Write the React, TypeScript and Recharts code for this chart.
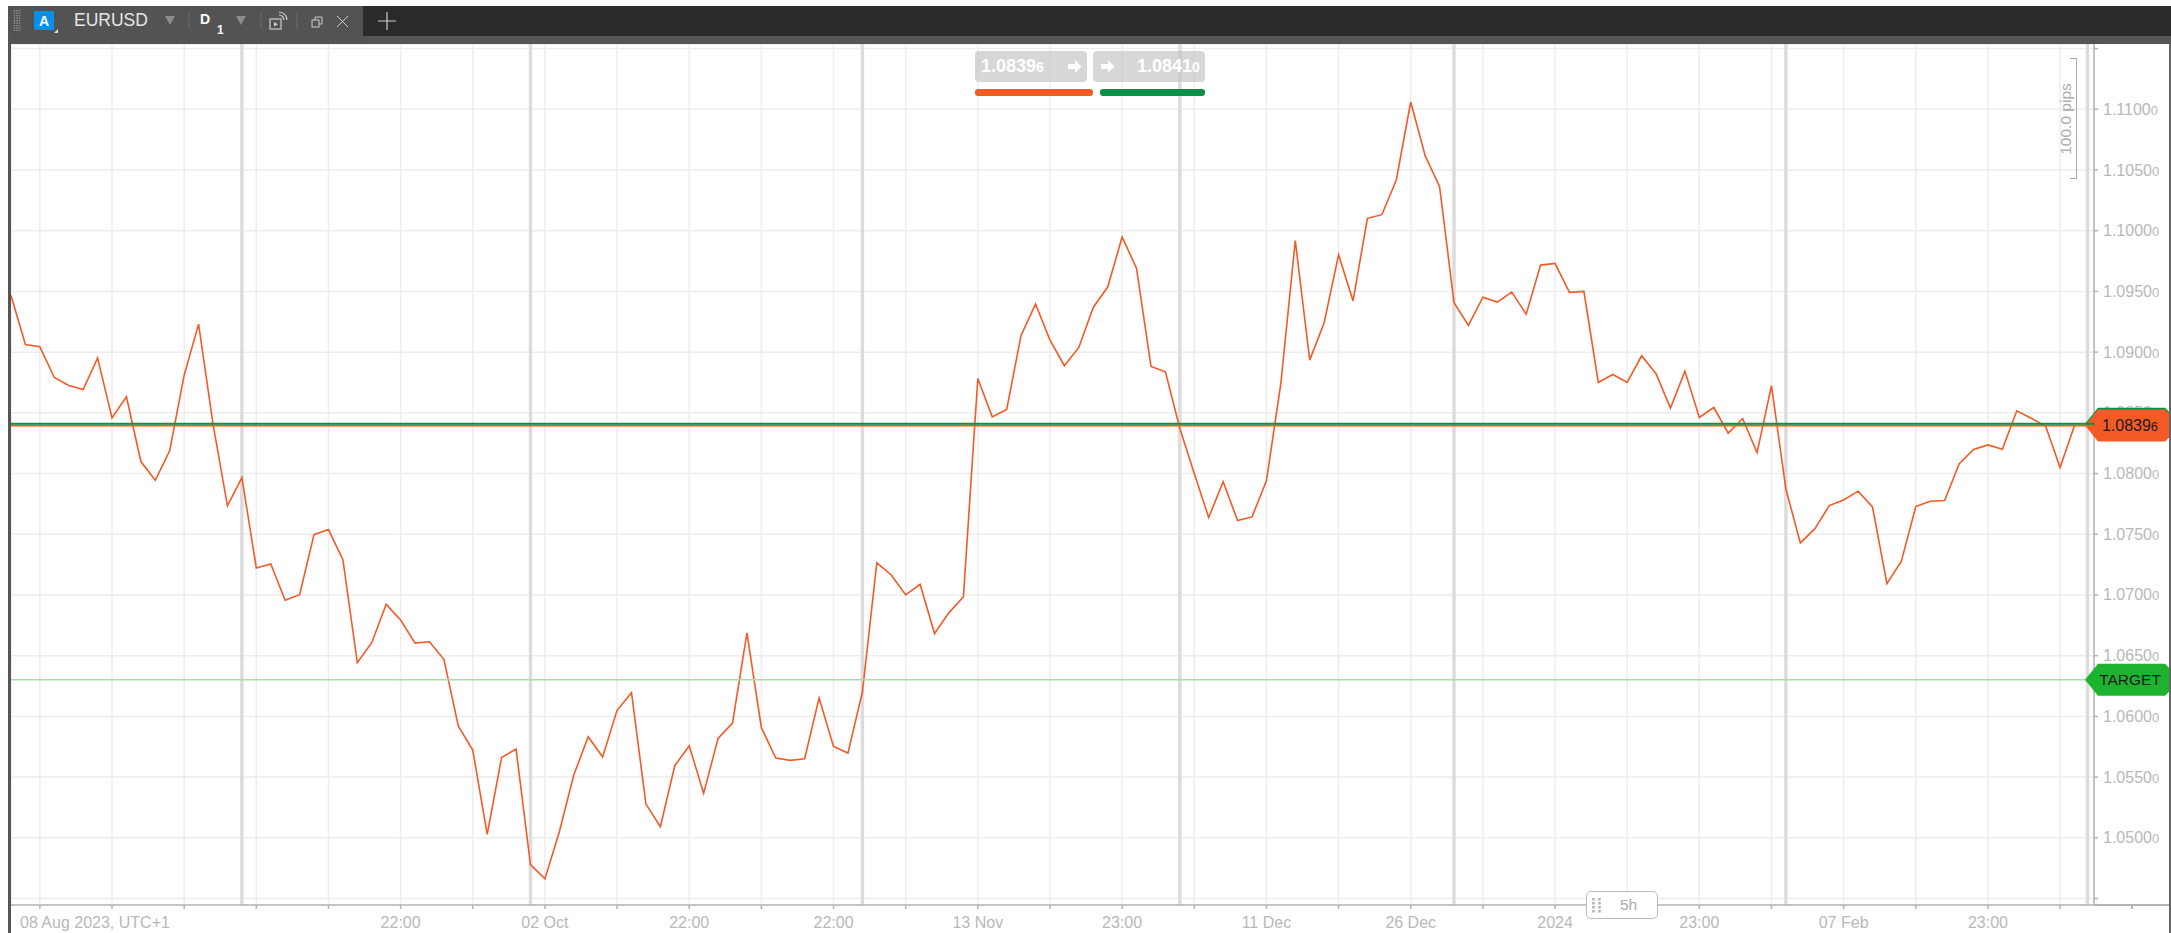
import { LineChart, Line, XAxis, YAxis, CartesianGrid, ReferenceLine } from "recharts";

// daily closes, one per bar
const closes = [
  1.09467, 1.09063, 1.09044, 1.08791, 1.08725, 1.08692, 1.08953, 1.08459, 1.08632, 1.08099,
  1.07945, 1.0819, 1.0881, 1.09231, 1.08407, 1.07734, 1.07967, 1.07223, 1.07256, 1.06956,
  1.07003, 1.07497, 1.07539, 1.07291, 1.06442, 1.06607, 1.06923, 1.06794, 1.06604, 1.06615,
  1.0647, 1.0592, 1.05723, 1.05028, 1.05662, 1.05731, 1.0478, 1.04662, 1.0505, 1.05517,
  1.05833, 1.05665, 1.0605, 1.06195, 1.05278, 1.05091, 1.05594, 1.05758, 1.05366, 1.05819,
  1.05945, 1.06687, 1.05907, 1.05657, 1.05638, 1.05651, 1.06151, 1.05753, 1.05698, 1.06201,
  1.07264, 1.07165, 1.07, 1.07088, 1.06682, 1.06855, 1.06984, 1.08783, 1.08467, 1.08528,
  1.0914, 1.09396, 1.09099, 1.08888, 1.09039, 1.09368, 1.09536, 1.09948, 1.0969, 1.08882,
  1.08838, 1.08371, 1.08, 1.07638, 1.07932, 1.07613, 1.07643, 1.0794, 1.08742, 1.09918,
  1.08934, 1.09242, 1.09802, 1.09423, 1.10102, 1.10132, 1.10418, 1.1106, 1.10618, 1.10363,
  1.09407, 1.0922, 1.09453, 1.09412, 1.09495, 1.09313, 1.09717, 1.09731, 1.09492, 1.095,
  1.0875, 1.08816, 1.0875, 1.0897, 1.08822, 1.08539, 1.08844, 1.08462, 1.08544, 1.08333,
  1.08453, 1.08173, 1.08723, 1.07871, 1.07429, 1.07544, 1.07736, 1.07783, 1.07855, 1.07725,
  1.07094, 1.07278, 1.07728, 1.07772, 1.07778, 1.0808, 1.08198, 1.08236, 1.08201, 1.08517,
  1.08456, 1.0839, 1.0805, 1.08396,
];

const xTicks = [
  2, 7, 12, 17, 22, 27, 32, 37, 42, 47, 52, 57, 62, 67, 72, 77, 82, 87, 92, 97, 102, 107, 112, 117, 122,
  127, 132, 137, 142,
];
const xLabelAt = [7, 27, 37, 47, 57, 67, 77, 87, 97, 107, 117, 127, 137];
const xLabels = [
  "08 Aug 2023, UTC+1", "22:00", "02 Oct", "22:00", "22:00", "13 Nov", "23:00", "11 Dec", "26 Dec", "2024",
  "23:00", "07 Feb", "23:00",
];
const priceTicks = [
  1.045, 1.05, 1.055, 1.06, 1.065, 1.07, 1.075, 1.08, 1.085, 1.09, 1.095, 1.1, 1.105, 1.11, 1.115,
];
const periodBreaks = [16, 36, 59, 81, 100, 123, 143.9];

const bid = 1.08396;
const ask = 1.0841;
const target = 1.06302;

const data = closes.map((close, i) => ({ i, close }));

const FONT = '"Liberation Sans", Arial, sans-serif';
const ORANGE = "#f45a25";
const GREEN = "#0a9147";
const AXIS = "#b4b4b4";
const TICK_TEXT = "#b8b8b8";
const TAG_LAYER = 2000; // tags sit over the price scale

const PriceTick = ({ x, y, payload }: any) => {
  const v = payload.value;
  if (v < 1.049 || v > 1.111) return null;
  const s = v.toFixed(5);
  return (
    <text x={x} y={y} dy={5.5} fontFamily={FONT} fontSize={16} fill={TICK_TEXT}>
      {s.slice(0, -1)}
      <tspan fontSize={13}>{s.slice(-1)}</tspan>
    </text>
  );
};

const TimeTick = ({ x, y, payload }: any) => {
  const k = xLabelAt.indexOf(payload.value);
  if (k < 0) return null;
  // the first label is pushed against the left edge
  return (
    <text
      x={k === 0 ? 20 : x}
      y={y}
      dy={17}
      textAnchor={k === 0 ? "start" : "middle"}
      fontFamily={FONT}
      fontSize={16}
      fill={TICK_TEXT}
    >
      {xLabels[k]}
    </text>
  );
};

const priceTag = (fill: string, main: string, small?: string) => ({ viewBox }: any) => {
  const y = viewBox.y;
  const l = viewBox.x + viewBox.width - 9;
  const r = 2169;
  const pts = `${l},${y} ${l + 13},${y - 16} ${r - 4},${y - 16} ${r},${y - 12} ${r},${y + 12} ${r - 4},${y + 16} ${l + 13},${y + 16}`;
  return (
    <g>
      <polygon points={pts} fill={fill} />
      {main && (
        <text x={2130} y={y + 5.5} textAnchor="middle" fontFamily={FONT} fontSize={small ? 16 : 15.5} fill="#1c1c1c">
          {main}
          {small && <tspan fontSize={13}>{small}</tspan>}
        </text>
      )}
    </g>
  );
};

const box = (left: number, top: number, width: number, height: number, background: string, extra = {}) => ({
  position: "absolute" as const,
  left,
  top,
  width,
  height,
  background,
  ...extra,
});

const Arrow = ({ x, y }: { x: number; y: number }) => (
  <svg style={{ position: "absolute", left: x, top: y }} width={14} height={13}>
    <path d="M0 4H7V0L13.5 6.5L7 13V9H0Z" fill="#fff" />
  </svg>
);

const QuoteBox = ({ left, width, main, small, textLeft }: any) => (
  <div style={box(left, 51, width, 31, "rgba(196,196,196,0.68)", { borderRadius: 4 })}>
    <span
      style={{
        position: "absolute",
        left: textLeft,
        top: 5,
        fontFamily: FONT,
        fontWeight: 700,
        fontSize: 18,
        color: "#fff",
        lineHeight: "21px",
      }}
    >
      {main}
      <span style={{ fontSize: 14 }}>{small}</span>
    </span>
  </div>
);

const TopBar = () => (
  <>
    <div style={box(8, 6, 2163, 30, "#2a2a2a")} />
    <div style={box(8, 36, 2163, 8, "#555555")} />
    <div style={box(8, 6, 355, 38, "#535353")} />
    <svg style={{ position: "absolute", left: 0, top: 0 }} width={420} height={44}>
      {[14.5, 17, 19.5].map((x) => (
        <line key={x} x1={x} x2={x} y1={10} y2={31} stroke="#8a8a8a" strokeWidth={1.5} strokeDasharray="1.5 1" />
      ))}
      <rect x={34} y={11} width={20} height={19} fill="#0a8fe8" />
      <path d="M58 33V29L54 33Z" fill="#ddd" />
      <text x={44} y={26} textAnchor="middle" fontFamily={FONT} fontWeight={700} fontSize={14} fill="#fff">
        A
      </text>
      <text x={74} y={26} fontFamily={FONT} fontSize={17.5} fill="#e6e6e6">
        EURUSD
      </text>
      <path d="M165 16H175L170 25Z" fill="#8c8c8c" />
      <line x1={189} x2={189} y1={12} y2={29} stroke="#6c6c6c" />
      <text x={200} y={24} fontFamily={FONT} fontWeight={700} fontSize={14} fill="#fff">
        D
      </text>
      <text x={217} y={34} fontFamily={FONT} fontWeight={700} fontSize={12} fill="#fff">
        1
      </text>
      <path d="M236 16H246L241 25Z" fill="#8c8c8c" />
      <line x1={261} x2={261} y1={12} y2={29} stroke="#6c6c6c" />
      <rect x={270} y={19} width={11} height={10} fill="none" stroke="#ccc" strokeWidth={1.2} />
      <path d="M274 22V26.5L278 24.2Z" fill="#ccc" />
      <path d="M279 15a5 5 0 0 1 5 5M279 12a8 8 0 0 1 8 8" fill="none" stroke="#ccc" strokeWidth={1.2} />
      <line x1={297} x2={297} y1={12} y2={29} stroke="#6c6c6c" />
      <rect x={312} y={20} width={7} height={7} fill="none" stroke="#ccc" />
      <path d="M315 20V17H322V24H319" fill="none" stroke="#ccc" />
      <path d="M337 16L348 27M348 16L337 27" stroke="#ccc" strokeWidth={1} />
      <path d="M378 21H396M387 12V30" stroke="#ccc" strokeWidth={1.2} />
    </svg>
  </>
);

const App = () => (
  <div style={box(0, 0, 2171, 933, "#fff", { overflow: "hidden" })}>
    <LineChart
      width={2171}
      height={933}
      data={data}
      margin={{ top: 44, right: 0, bottom: 0, left: 11 }}
      style={{ position: "absolute", left: 0, top: 0 }}
    >
      <CartesianGrid stroke="#ededed" strokeWidth={1.5} />
      <XAxis
        dataKey="i"
        type="number"
        domain={[0, 144.35]}
        ticks={xTicks}
        interval={0}
        height={28}
        tickSize={4}
        tickMargin={2}
        stroke={AXIS}
        strokeWidth={1.5}
        tick={<TimeTick />}
      />
      <YAxis
        orientation="right"
        type="number"
        domain={[1.044468, 1.115378]}
        ticks={priceTicks}
        interval={0}
        width={77}
        tickSize={4}
        tickMargin={5}
        stroke={AXIS}
        strokeWidth={1.5}
        tick={<PriceTick />}
      />
      {periodBreaks.map((b) => (
        <ReferenceLine key={b} x={b} stroke="#dcdcdc" strokeWidth={3.5} />
      ))}
      <Line
        dataKey="close"
        type="linear"
        stroke={ORANGE}
        strokeWidth={1.6}
        dot={false}
        activeDot={false}
        isAnimationActive={false}
      />
      <ReferenceLine y={target} stroke="#a6dfa6" strokeWidth={1.5} zIndex={TAG_LAYER} label={priceTag("#1db32e", "TARGET")} />
      <ReferenceLine y={ask} stroke="none" zIndex={TAG_LAYER} label={priceTag(GREEN, "")} />
      <ReferenceLine y={bid} stroke={ORANGE} strokeWidth={2} zIndex={TAG_LAYER} label={priceTag(ORANGE, "1.0839", "6")} />
      <ReferenceLine y={ask} stroke={GREEN} strokeWidth={2} zIndex={TAG_LAYER} />
    </LineChart>

    <TopBar />
    <div style={box(8, 6, 3, 927, "#555555")} />
    <div style={box(2169, 44, 2, 889, "#666666")} />

    {/* bid / ask widget */}
    <QuoteBox left={975} width={112} main="1.0839" small="6" textLeft={6} />
    <QuoteBox left={1093} width={112} main="1.0841" small="0" textLeft={44} />
    <Arrow x={1068} y={60} />
    <Arrow x={1101} y={60} />
    <div style={box(975, 89, 118, 7, ORANGE, { borderRadius: 3 })} />
    <div style={box(1100, 89, 105, 7, GREEN, { borderRadius: 3 })} />

    {/* pips ruler */}
    <div style={box(2070, 58, 7, 121, "transparent", { border: "1.5px solid #aaa", borderLeft: "none", boxSizing: "border-box" })} />
    <div
      style={{
        position: "absolute",
        left: 2066,
        top: 119,
        transform: "translate(-50%,-50%) rotate(-90deg)",
        fontFamily: FONT,
        fontSize: 15.5,
        color: "#aaa",
        whiteSpace: "nowrap",
      }}
    >
      100.0 pips
    </div>

    {/* axis runs on under the price scale */}
    <div style={box(2094, 904, 75, 1.5, AXIS)} />
    <div style={box(2131, 905, 1.5, 4, AXIS)} />

    {/* bar spacing handle */}
    <div style={box(1586, 891, 72, 28, "#fff", { border: "1.5px solid #bcbcbc", borderRadius: 5, boxSizing: "border-box" })}>
      <svg style={{ position: "absolute", left: 5, top: 5 }} width={12} height={18}>
        {[1.5, 7.5].map((x) => (
          <line key={x} x1={x} x2={x} y1={1} y2={17} stroke="#b0b0b0" strokeWidth={2.5} strokeDasharray="2.5 1.5" />
        ))}
      </svg>
      <span style={{ position: "absolute", left: 33, top: 4, fontFamily: FONT, fontSize: 15.5, color: "#aaa" }}>5h</span>
    </div>
  </div>
);

export default App;
